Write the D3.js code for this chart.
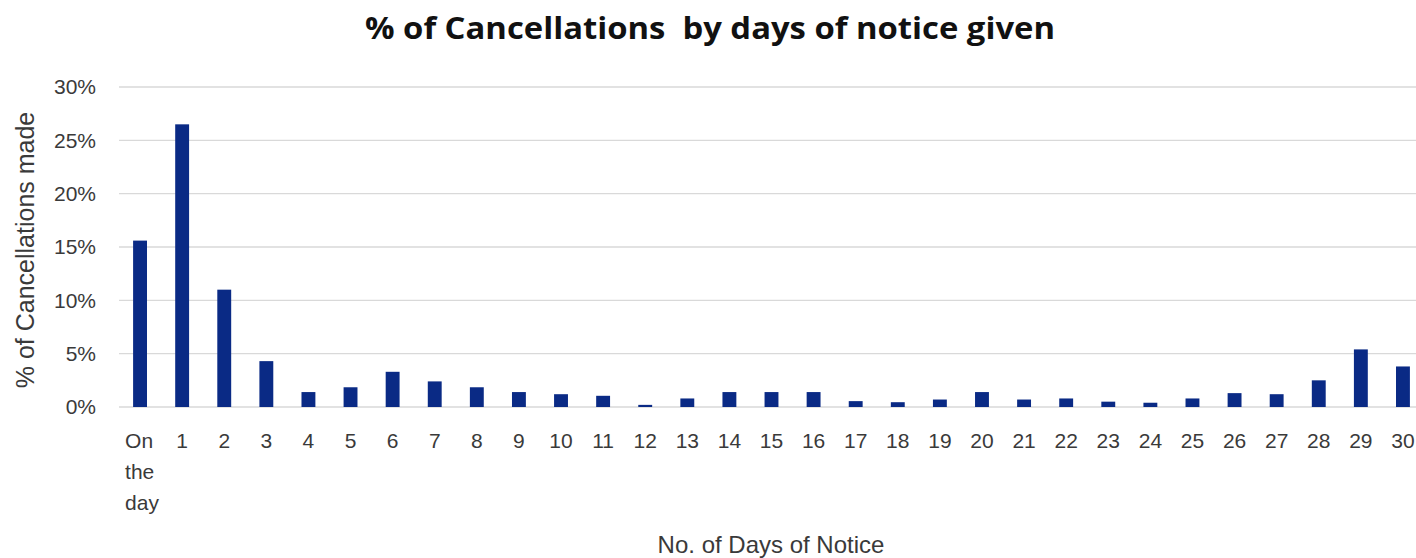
<!DOCTYPE html>
<html>
<head>
<meta charset="utf-8">
<script src="https://cdn.jsdelivr.net/npm/d3@7"></script>
<style>
  body { margin: 0; background: #fff; }
  svg text { font-family: "Liberation Sans", Arial, sans-serif; fill: #3a3a3a; }
  .title { font-family: "Open Sans", "Roboto", sans-serif; font-weight: bold; fill: #111; white-space: pre; }
  .axis path { display: none; }
  .grid line { stroke: #d9d9d9; stroke-width: 1.3; }
</style>
</head>
<body>
<div id="vis"></div>
<script>
let W = 1416; // width
let H = 558; // height

// categories and values (percent of cancellations)
let days = ['On the day', '1', '2', '3', '4', '5', '6', '7', '8', '9', '10', '11', '12', '13', '14', '15',
	'16', '17', '18', '19', '20', '21', '22', '23', '24', '25', '26', '27', '28', '29', '30'];
let pct = [15.6, 26.5, 11.0, 4.3, 1.4, 1.85, 3.3, 2.4, 1.85, 1.4, 1.2, 1.05, 0.2, 0.8, 1.4, 1.4,
	1.4, 0.55, 0.45, 0.7, 1.4, 0.7, 0.8, 0.5, 0.4, 0.8, 1.3, 1.2, 2.5, 5.4, 3.8];
let yTicks = [0, 5, 10, 15, 20, 25, 30];

let svg = d3.select('#vis').append('svg').attr('width', W).attr('height', H);

let xScale = d3.scaleBand().domain(days).range([119, 1424]).paddingInner(0.67).paddingOuter(0.335);
let yScale = d3.scaleLinear().domain([0, 30]).range([407, 87]);

// gridlines
svg.append('g').attr('class', 'grid')
		.selectAll('line').data(yTicks).enter().append('line')
		.attr('x1', 119).attr('x2', W)
		.attr('y1', d => yScale(d)).attr('y2', d => yScale(d));

// bars
svg.append('g').selectAll('rect').data(days).enter().append('rect')
		.attr('x', d => xScale(d))
		.attr('width', xScale.bandwidth())
		.attr('y', (d, i) => yScale(pct[i]))
		.attr('height', (d, i) => yScale(0) - yScale(pct[i]))
		.attr('fill', '#0a2a85');

// y axis
let yAxis = svg.append('g').attr('class', 'axis')
		.attr('transform', 'translate(96,0)')
		.call(d3.axisLeft(yScale).tickValues(yTicks).tickSize(0).tickPadding(0).tickFormat(d => d + '%'));
yAxis.selectAll('text').style('font-size', '21px');

// x axis
let xAxis = svg.append('g').attr('class', 'axis')
		.attr('transform', 'translate(0,433)')
		.call(d3.axisBottom(xScale).tickSize(0).tickPadding(0));
xAxis.selectAll('text').style('font-size', '21px').attr('dy', '0.71em');

// wrap "On the day" onto three lines
xAxis.selectAll('text').filter(d => d === 'On the day').each(function() {
	let t = d3.select(this);
	t.text(null).attr('text-anchor', 'start');
	['On', 'the', 'day'].forEach((w, i) => {
		t.append('tspan').attr('x', -15).attr('dy', i === 0 ? '0.71em' : '31px').text(w);
	});
	t.attr('dy', null);
});

// title
svg.append('text').attr('class', 'title')
		.attr('x', 710).attr('y', 39)
		.attr('text-anchor', 'middle')
		.attr('textLength', 690)
		.attr('lengthAdjust', 'spacingAndGlyphs')
		.style('font-size', '31px')
		.text('% of Cancellations  by days of notice given');

// axis titles
svg.append('text')
		.attr('x', 771).attr('y', 553)
		.attr('text-anchor', 'middle')
		.style('font-size', '24px')
		.text('No. of Days of Notice');

svg.append('text')
		.attr('transform', 'translate(34,250) rotate(-90)')
		.attr('text-anchor', 'middle')
		.style('font-size', '25px')
		.text('% of Cancellations made');
</script>
</body>
</html>
